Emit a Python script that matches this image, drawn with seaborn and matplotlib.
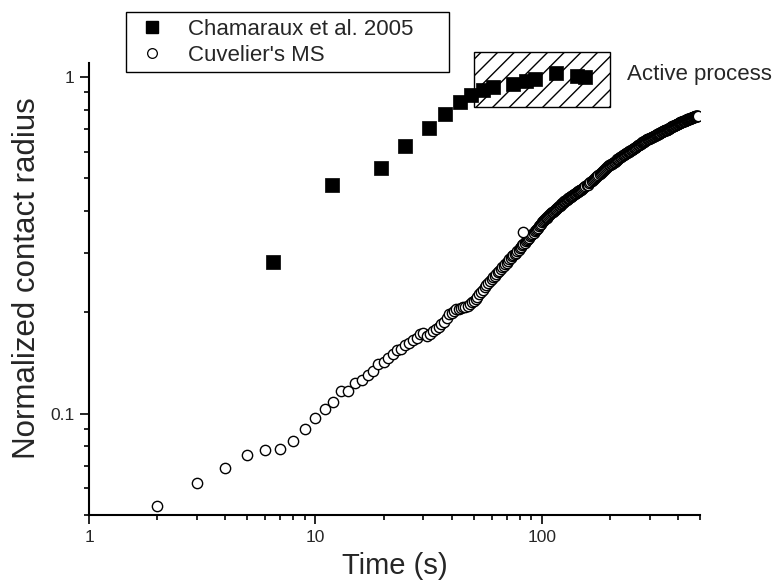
import pandas as pd
import matplotlib
matplotlib.use('Agg')
import matplotlib.pyplot as plt
from matplotlib.patches import Rectangle
from matplotlib.lines import Line2D
import seaborn as sns

# Chamaraux et al. 2005 (filled squares)
cham_time = [6.5, 11.9, 19.5, 24.8, 31.7, 37.3, 43.5, 48.6, 54.9, 60.8,
             74.5, 85, 93, 116, 143, 155]
cham_radius = [0.283, 0.478, 0.537, 0.624, 0.706, 0.777, 0.843, 0.884, 0.915, 0.934,
               0.953, 0.973, 0.986, 1.028, 1.007, 1.0]

# Cuvelier's MS (open circles), 1 s sampling then 2 s
cuv_time = [
    2, 3, 4, 5, 6, 7, 8, 9, 10, 11, 12, 13, 14, 15, 16, 17, 18, 19, 20,
    21, 22, 23, 24, 25, 26, 27, 28, 29, 30, 31, 32, 33, 34, 35, 36, 37, 38, 39, 40,
    41, 42, 43, 44, 45, 46, 47, 48, 49, 50, 51, 52, 53, 54, 55, 56, 57, 58, 59, 60,
    61, 62, 63, 64, 65, 66, 67, 68, 69, 70, 71, 72, 73, 74, 75, 76, 77, 78, 79, 80,
    81, 82, 83, 84, 85, 86, 87, 88, 89, 90, 91, 92, 93, 94, 95, 96, 97, 98, 99, 100,
    101, 102, 103, 104, 105, 106, 107, 108, 109, 110, 111, 112, 113, 114, 115, 116,
    117, 118, 119, 120, 121, 122, 123, 124, 125, 126, 127, 128, 129, 130, 131, 132,
    133, 134, 135, 136, 137, 138, 139, 140, 141, 142, 143, 144, 145, 146, 147, 148,
    149, 150,
    152, 154, 156, 158, 160, 162, 164, 166, 168, 170, 172, 174, 176, 178, 180,
    182, 184, 186, 188, 190, 192, 194, 196, 198, 200, 202, 204, 206, 208, 210,
    212, 214, 216, 218, 220, 222, 224, 226, 228, 230, 232, 234, 236, 238, 240,
    242, 244, 246, 248, 250, 252, 254, 256, 258, 260, 262, 264, 266, 268, 270,
    272, 274, 276, 278, 280, 282, 284, 286, 288, 290, 292, 294, 296, 298, 300,
    302, 304, 306, 308, 310, 312, 314, 316, 318, 320, 322, 324, 326, 328, 330,
    332, 334, 336, 338, 340, 342, 344, 346, 348, 350, 352, 354, 356, 358, 360,
    362, 364, 366, 368, 370, 372, 374, 376, 378, 380, 382, 384, 386, 388, 390,
    392, 394, 396, 398, 400, 402, 404, 406, 408, 410, 412, 414, 416, 418, 420,
    422, 424, 426, 428, 430, 432, 434, 436, 438, 440, 442, 444, 446, 448, 450,
    452, 454, 456, 458, 460, 462, 464, 466, 468, 470, 472, 474, 476, 478, 480,
    482, 484, 486, 488, 490,
    83]
cuv_radius = [
    0.053, 0.0624, 0.069, 0.0755, 0.078, 0.0785, 0.083, 0.090, 0.097, 0.103, 0.108,
    0.117, 0.117, 0.123, 0.126, 0.130, 0.134, 0.140, 0.142,
    0.146, 0.150, 0.155, 0.156, 0.160, 0.162, 0.165, 0.168, 0.172, 0.174,
    0.170, 0.172, 0.176, 0.178, 0.181, 0.184, 0.187, 0.192, 0.197, 0.199,
    0.202, 0.204, 0.205, 0.206, 0.207, 0.208, 0.209, 0.212, 0.214, 0.216,
    0.219, 0.222, 0.226, 0.230, 0.233, 0.237, 0.241, 0.245, 0.248, 0.251,
    0.254, 0.257, 0.260, 0.263, 0.266, 0.269, 0.272, 0.275, 0.278, 0.281,
    0.284, 0.287, 0.290, 0.293, 0.296, 0.298, 0.301, 0.304, 0.307, 0.310,
    0.313, 0.316, 0.319, 0.322, 0.325, 0.328, 0.330, 0.333, 0.336, 0.339,
    0.342, 0.345, 0.348, 0.351, 0.354, 0.357, 0.361, 0.364, 0.367, 0.370,
    0.373, 0.375, 0.378, 0.380, 0.382, 0.385, 0.387, 0.389, 0.392, 0.394,
    0.396, 0.398, 0.400, 0.402, 0.404, 0.406, 0.408, 0.411, 0.413, 0.415,
    0.417, 0.419, 0.421, 0.423, 0.425, 0.427, 0.429, 0.431, 0.432, 0.434,
    0.436, 0.437, 0.439, 0.440, 0.442, 0.443, 0.445, 0.446, 0.448, 0.449,
    0.451, 0.452, 0.454, 0.456, 0.457, 0.459, 0.460, 0.462, 0.463, 0.465,
    0.468, 0.470, 0.473, 0.476, 0.479, 0.483, 0.486, 0.490, 0.493, 0.497,
    0.501, 0.504, 0.508, 0.511, 0.515, 0.519, 0.523, 0.527, 0.530, 0.534,
    0.537, 0.540, 0.543, 0.546, 0.549, 0.551, 0.553, 0.556, 0.558, 0.560,
    0.563, 0.566, 0.569, 0.572, 0.575, 0.578, 0.580, 0.583, 0.585, 0.588,
    0.590, 0.592, 0.593, 0.595, 0.597, 0.599, 0.601, 0.604, 0.606, 0.608,
    0.610, 0.612, 0.615, 0.617, 0.619, 0.621, 0.623, 0.626, 0.628, 0.630,
    0.632, 0.634, 0.637, 0.639, 0.641, 0.643, 0.645, 0.646, 0.648, 0.650,
    0.652, 0.653, 0.655, 0.656, 0.658, 0.659, 0.660, 0.662, 0.663, 0.664,
    0.666, 0.667, 0.669, 0.670, 0.672, 0.674, 0.675, 0.677, 0.678, 0.680,
    0.682, 0.683, 0.685, 0.686, 0.688, 0.689, 0.690, 0.692, 0.693, 0.694,
    0.695, 0.696, 0.697, 0.698, 0.699, 0.701, 0.702, 0.704, 0.705, 0.707,
    0.708, 0.710, 0.711, 0.713, 0.714, 0.715, 0.716, 0.718, 0.719, 0.720,
    0.721, 0.723, 0.724, 0.726, 0.727, 0.728, 0.729, 0.731, 0.732, 0.733,
    0.734, 0.735, 0.736, 0.737, 0.738, 0.739, 0.740, 0.740, 0.741, 0.742,
    0.743, 0.744, 0.746, 0.747, 0.748, 0.749, 0.750, 0.750, 0.751, 0.752,
    0.753, 0.754, 0.755, 0.755, 0.756, 0.757, 0.758, 0.759, 0.759, 0.760,
    0.761, 0.762, 0.763, 0.763, 0.764, 0.765, 0.766, 0.767, 0.767, 0.768,
    0.347]

# hatched "active process" zone (time range, radius range)
active_time = [50, 200]
active_radius = [0.815, 1.19]

sns.set_style("ticks")
plt.rcParams['font.family'] = ['Liberation Sans', 'DejaVu Sans']
plt.rcParams['hatch.linewidth'] = 1.0

fig = plt.figure(figsize=(7.75, 5.84), dpi=100)
ax = fig.add_axes([89 / 775, 1 - 515 / 584, (700 - 89) / 775, (515 - 63) / 584])

cham_df = pd.DataFrame({"time": cham_time, "radius": cham_radius})
cuv_df = pd.DataFrame({"time": cuv_time, "radius": cuv_radius})

sns.scatterplot(data=cuv_df, x="time", y="radius", marker="o", s=55,
                facecolor="white", edgecolor="black", linewidth=1.0,
                legend=False, ax=ax, zorder=3)
sns.scatterplot(data=cham_df, x="time", y="radius", marker="s", s=100,
                color="black", edgecolor="black", linewidth=0.5,
                legend=False, ax=ax, zorder=4)

rect = Rectangle((active_time[0], active_radius[0]),
                 active_time[1] - active_time[0], active_radius[1] - active_radius[0],
                 facecolor="white", edgecolor="black", hatch="//",
                 linewidth=1.0, zorder=2, clip_on=False)
ax.add_patch(rect)
ax.text(237, 1.02, "Active process", fontsize=16, va="center", ha="left")

ax.set_xscale("log")
ax.set_yscale("log")
ax.set_xlim(1, 500)
ax.set_ylim(0.05, 1.1)
ax.set_xticks([1, 10, 100])
ax.set_xticklabels(["1", "10", "100"])
ax.set_yticks([0.1, 1])
ax.set_yticklabels(["0.1", "1"])
ax.yaxis.set_minor_formatter(matplotlib.ticker.NullFormatter())
ax.xaxis.set_minor_formatter(matplotlib.ticker.NullFormatter())

ax.tick_params(which="major", length=6.5, width=1.2, labelsize=12.5, direction="out",
               color="black", pad=4)
ax.tick_params(which="minor", length=3.6, width=1.2, direction="out", color="black")
for side in ["left", "bottom"]:
    ax.spines[side].set_linewidth(1.5)
    ax.spines[side].set_color("black")
sns.despine(ax=ax)

ax.set_xlabel("Time (s)", fontsize=21, labelpad=5)
ax.set_ylabel("Normalized contact radius", fontsize=22.5)
ax.yaxis.set_label_coords(-0.077, 0.524)

handles = [
    Line2D([], [], linestyle="none", marker="s", markersize=8,
           markerfacecolor="black", markeredgecolor="black"),
    Line2D([], [], linestyle="none", marker="o", markersize=7,
           markerfacecolor="white", markeredgecolor="black", markeredgewidth=0.9),
]
labels = ["Chamaraux et al. 2005", "Cuvelier's MS"]
leg = ax.legend(handles, labels, loc="upper left", mode="expand",
                bbox_to_anchor=(126 / 775, 1 - 71 / 584, (449 - 126) / 775, 59 / 584),
                bbox_transform=fig.transFigure,
                borderaxespad=0, fontsize=16, frameon=True, fancybox=False,
                edgecolor="black", framealpha=1,
                handletextpad=0.8, labelspacing=0.22, borderpad=0.3, handlelength=1.7)
leg.get_frame().set_linewidth(1.0)

fig.savefig("out.png", dpi=100)
